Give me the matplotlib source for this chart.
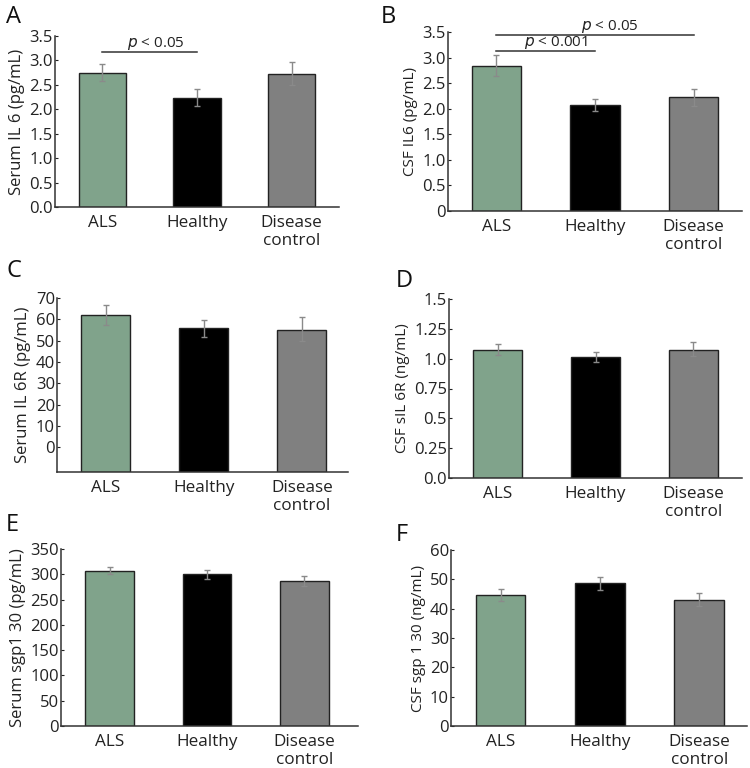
import numpy as np
import matplotlib
matplotlib.use("Agg")
import matplotlib.pyplot as plt

plt.rcParams['font.family'] = ['Open Sans', 'DejaVu Sans']

# ------------------ DATA -------------------------#
groups = ["ALS", "Healthy", "Disease\ncontrol"]
colors = ["#80a38b", "#000000", "#808080"]

# A: serum IL6 (pg/mL)
il6_serum = [2.74, 2.24, 2.73]
il6_serum_lo = [2.58, 2.07, 2.50]
il6_serum_hi = [2.92, 2.41, 2.97]

# B: CSF IL6 (pg/mL)
il6_csf = [2.84, 2.08, 2.22]
il6_csf_lo = [2.63, 1.96, 2.06]
il6_csf_hi = [3.05, 2.19, 2.39]

# C: serum IL6R (pg/mL)
il6r_serum = [62.0, 55.7, 55.2]
il6r_serum_lo = [57.4, 51.5, 49.8]
il6r_serum_hi = [66.5, 59.8, 60.9]

# D: CSF sIL6R (ng/mL)
il6r_csf = [1.076, 1.017, 1.076]
il6r_csf_lo = [1.028, 0.975, 1.02]
il6r_csf_hi = [1.127, 1.056, 1.14]

# E: serum sgp130 (pg/mL)
gp130_serum = [306.6, 300.6, 287.6]
gp130_serum_lo = [300.0, 290.8, 277.7]
gp130_serum_hi = [313.9, 309.3, 297.5]

# F: CSF sgp130 (ng/mL)
gp130_csf = [44.7, 48.65, 43.1]
gp130_csf_lo = [42.5, 46.5, 41.0]
gp130_csf_hi = [46.8, 50.8, 45.4]

W, H = 750, 768
fig = plt.figure(figsize=(W/100, H/100), dpi=100)


def make_ax(left, right, top, bottom):
    return fig.add_axes([left/W, 1 - bottom/H, (right-left)/W, (bottom-top)/H])


def panel(ax, vals, lo, hi, ylim, yticks, yticklabels, ylabel, ylabel_size, xlim):
    x = np.arange(len(vals))
    vals = np.array(vals)
    base = ylim[0]
    ax.bar(x, vals - base, bottom=base, width=0.5, color=colors,
           edgecolor="#222222", linewidth=1.0, zorder=2)
    err = [vals - np.array(lo), np.array(hi) - vals]
    ax.errorbar(x, vals, yerr=err, fmt="none", ecolor="#8a8a8a",
                elinewidth=1.0, capsize=2, capthick=1.0, zorder=3)
    ax.set_xlim(*xlim)
    ax.set_ylim(*ylim)
    ax.set_yticks(yticks)
    ax.set_yticklabels(yticklabels)
    ax.set_xticks(x)
    ax.set_xticklabels(groups, fontsize=12.3, color="#222222", linespacing=1.15)
    ax.tick_params(axis="x", length=0, pad=6)
    ax.tick_params(axis="y", direction="in", length=2.5, width=0.8,
                   labelsize=12, pad=1.5, colors="#222222")
    for s in ["top", "right"]:
        ax.spines[s].set_visible(False)
    for s in ["left", "bottom"]:
        ax.spines[s].set_color("#333333")
        ax.spines[s].set_linewidth(1.1)
    ax.set_ylabel(ylabel, fontsize=ylabel_size, color="#222222", labelpad=3)


def sig(ax, x1, x2, y, txt, dx=0.06):
    ax.plot([x1, x2], [y, y], color="#333333", lw=1.1, clip_on=False)
    ax.text((x1 + x2) / 2 + dx, y, txt, ha="center", va="bottom", fontsize=11,
            color="#222222")


ptxt = r"$\it{p}$ < 0.05"
ptxt2 = r"$\it{p}$ < 0.001"

# A
axA = make_ax(55, 339, 36, 207)
panel(axA, il6_serum, il6_serum_lo, il6_serum_hi, (0, 3.5),
      np.arange(0, 3.6, 0.5), ["%.1f" % v for v in np.arange(0, 3.6, 0.5)],
      "Serum IL 6 (pg/mL)", 12, (-0.5, 2.5))
sig(axA, 0, 1, 3.18, ptxt)

# B
axB = make_ax(448, 742, 32, 211)
panel(axB, il6_csf, il6_csf_lo, il6_csf_hi, (0, 3.5),
      np.arange(0, 3.6, 0.5), ["0"] + ["%.1f" % v for v in np.arange(0.5, 3.6, 0.5)],
      "CSF IL6 (pg/mL)", 11, (-0.49, 2.49))
sig(axB, 0, 1, 3.13, ptxt2, dx=0.1)
sig(axB, 0, 2, 3.44, ptxt, dx=0.15)

# C
axC = make_ax(57, 348, 298, 472)
panel(axC, il6r_serum, il6r_serum_lo, il6r_serum_hi, (-11.6, 70),
      np.arange(0, 71, 10), [str(v) for v in range(0, 71, 10)],
      "Serum IL 6R (pg/mL)", 12, (-0.5, 2.47))

# D
axD = make_ax(449, 742, 299, 478)
panel(axD, il6r_csf, il6r_csf_lo, il6r_csf_hi, (0, 1.5),
      [0, 0.25, 0.5, 0.75, 1.0, 1.25, 1.5],
      ["0.0", "0.25", "0.5", "0.75", "1.0", "1.25", "1.5"],
      "CSF sIL 6R (ng/mL)", 11, (-0.5, 2.5))

# E
axE = make_ax(61, 358, 549, 726)
panel(axE, gp130_serum, gp130_serum_lo, gp130_serum_hi, (0, 350),
      np.arange(0, 351, 50), [str(v) for v in range(0, 351, 50)],
      "Serum sgp1 30 (pg/mL)", 12, (-0.5, 2.55))

# F
axF = make_ax(451, 747, 550, 726)
panel(axF, gp130_csf, gp130_csf_lo, gp130_csf_hi, (0, 60),
      np.arange(0, 61, 10), [str(v) for v in range(0, 61, 10)],
      "CSF sgp 1 30 (ng/mL)", 11, (-0.5, 2.48))

# panel letters
for lbl, px, py in [("A", 6, 5), ("B", 381, 5), ("C", 6, 259),
                    ("D", 396, 269), ("E", 6, 513), ("F", 396, 523)]:
    fig.text(px/W, 1 - py/H, lbl, fontsize=17, ha="left", va="top",
             color="#111111")

fig.savefig("out.png", dpi=100)
